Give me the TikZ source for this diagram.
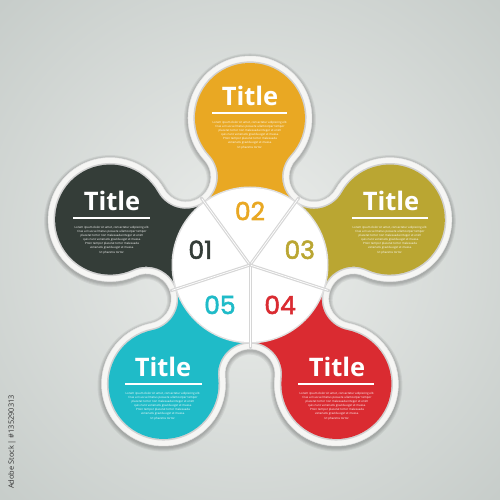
\documentclass[tikz,border=0pt]{standalone}
\usepackage{fontspec}
\setmainfont{Open Sans}
\newfontfamily\numfont{Poppins}[FakeBold=2.2]
\usetikzlibrary{calc}
\definecolor{cDark}{RGB}{52,61,56}
\definecolor{cOrange}{RGB}{233,168,35}
\definecolor{cOlive}{RGB}{186,166,50}
\definecolor{cRed}{RGB}{218,43,49}
\definecolor{cCyan}{RGB}{31,187,200}
\definecolor{bgIn}{RGB}{236,238,236}
\definecolor{bgOut}{RGB}{198,204,201}
\definecolor{ringc}{RGB}{246,246,244}
\newcommand{\flowerpath}[2]{%
 ($(250,235)+(18:147)+(-114.55:#1)$)
 arc[start angle=-114.55,end angle=150.55,radius=#1]
 arc[start angle=-29.45,end angle=-222.55,radius=#2]
 arc[start angle=-42.55,end angle=222.55,radius=#1]
 arc[start angle=42.55,end angle=-150.55,radius=#2]
 arc[start angle=29.45,end angle=294.55,radius=#1]
 arc[start angle=114.55,end angle=-78.55,radius=#2]
 arc[start angle=101.45,end angle=366.55,radius=#1]
 arc[start angle=186.55,end angle=-6.55,radius=#2]
 arc[start angle=173.45,end angle=438.55,radius=#1]
 arc[start angle=258.55,end angle=65.45,radius=#2]
 -- cycle}
\tikzset{
  titletext/.style={text=white, font=\bfseries\fontsize{25.5}{25.5}\selectfont, inner sep=0, anchor=base},
  bodytext/.style={text=white, font=\fontsize{2.9}{4.1}\selectfont, align=center, inner sep=0},
  numtext/.style={font=\numfont\fontsize{25}{25}\selectfont, inner sep=0},
  uline/.style={white, line width=1.3},
  groove/.style={black!16, line width=3, line cap=round},
  groovehi/.style={white, line width=0.7}
}
\newcommand{\bodycontent}{Lorem ipsum dolor sit amet, consectetur adipiscing elit.\\
Cras a risus vel metus posuere ullamcorper tempor\\
placerat tortor non malesuada integer et enim\\
quis nunc venenatis gravida eget et massa.\\
Proin tempor placerat tortor malesuada\\
venenatis gravida eget et massa.\\
Ut pharetra tortor.}
\begin{document}
\begin{tikzpicture}[x=1pt,y=1pt]
\useasboundingbox (0,0) rectangle (500,500);
\begin{scope}
\clip (0,0) rectangle (500,500);
\shade[inner color=bgIn, outer color=bgOut] (250,250) circle (360);
\end{scope}
\coordinate (C) at (250,235);
% soft shadow
\foreach \k in {1,2,3,4}{
  \fill[black, opacity=0.06, shift={(0,-1.5)}] \flowerpath{62+\k}{25-\k};
}
% white ring
\fill[ringc] \flowerpath{62}{25};
\draw[black!10, line width=0.5] \flowerpath{62}{25};
\draw[black!18, line width=2] \flowerpath{55.6}{31.4};
% petals
\foreach \t/\c in {18/cOlive, 90/cOrange, 162/cDark, 234/cCyan, 306/cRed}{
  \begin{scope}
  \clip (C) -- ($(C)+(\t-36:400)$) -- ($(C)+(\t:400)$) -- ($(C)+(\t+36:400)$) -- cycle;
  \fill[\c] \flowerpath{55}{32};
  \end{scope}
}
% central disc
\draw[black!12, line width=2] (C) circle (77.5);
\fill[white] (C) circle (77);
\foreach \p in {54,126,198,270,342}{
  \draw[groove] (C) -- ($(C)+(\p:83)$);
  \draw[groovehi] ($(C)+(\p:1)$) -- ($(C)+(\p:82)$);
}
% numbers
\node[numtext, text=cOrange] (n2) at ($(C)+(90:54)$) {02};
\node[numtext, text=cDark] (n1) at ($(C)+(163:52)$) {01};
\node[numtext, text=cOlive] (n3) at ($(C)+(17:52)$) {03};
\node[numtext, text=cRed] (n4) at ($(C)+(307:50)$) {04};
\node[numtext, text=cCyan] (n5) at ($(C)+(233:50)$) {05};
% titles
\node[titletext] (t2) at (250,394) {Title};
\node[titletext] (t1) at (112,289) {Title};
\node[titletext] (t3) at (391,289) {Title};
\node[titletext] (t5) at (163,123) {Title};
\node[titletext] (t4) at (337,123) {Title};
% underlines
\draw[uline] (212,387) -- (287,387);
\draw[uline] (73,282) -- (150,282);
\draw[uline] (352,282) -- (428,282);
\draw[uline] (125,116) -- (202,116);
\draw[uline] (298,116) -- (374,116);
% body texts
\node[bodytext] (b2) at (250,365) {\bodycontent};
\node[bodytext] (b1) at (112,260) {\bodycontent};
\node[bodytext] (b3) at (390,260) {\bodycontent};
\node[bodytext] (b5) at (163,94) {\bodycontent};
\node[bodytext] (b4) at (337,94) {\bodycontent};
% credit line
\node[rotate=90, text=black!80, font=\fontsize{7.4}{7.4}\selectfont, inner sep=0] (credit) at (12,58) {Adobe Stock | \#135290313};
\end{tikzpicture}
\end{document}
